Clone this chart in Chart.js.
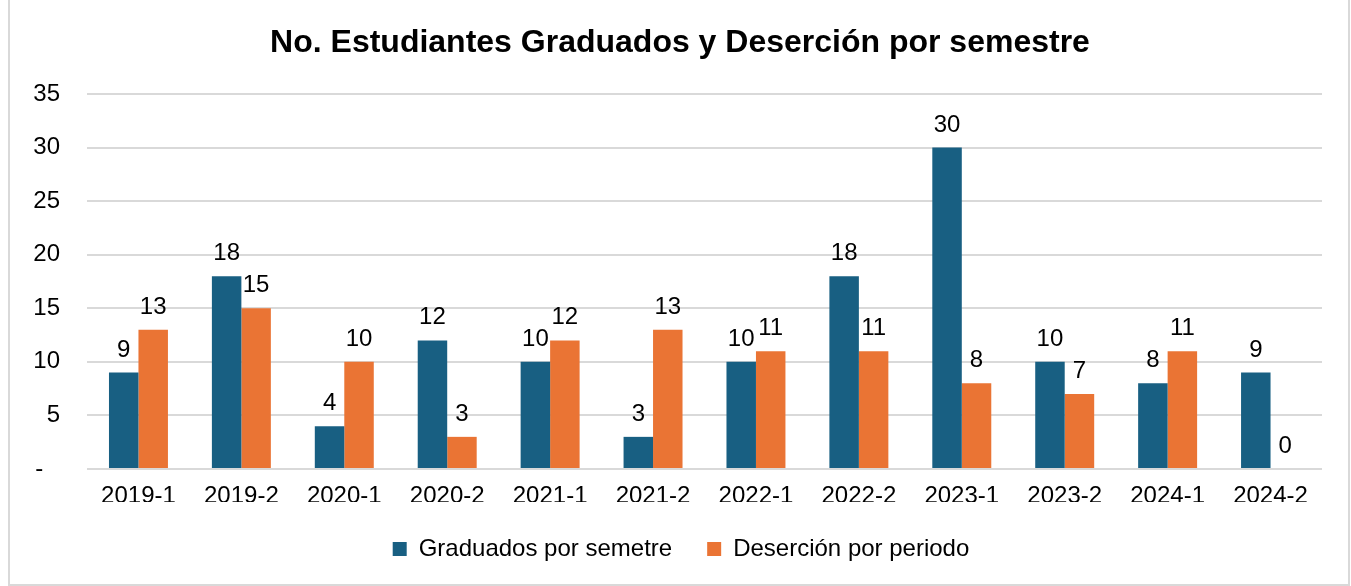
<!DOCTYPE html>
<html>
<head>
<meta charset="utf-8">
<script src="https://cdn.jsdelivr.net/npm/chart.js@4"></script>
<style>
  html, body { margin: 0; padding: 0; background: #fff; }
  #wrap { position: absolute; left: 0; top: 0; width: 1351px; height: 586px; }
  #frame { position: absolute; left: 8px; top: -2px; width: 1338px; height: 584px; border: 2px solid #d9d9d9; pointer-events: none; }
</style>
</head>
<body>
<div id="wrap"><canvas id="c" width="1351" height="586"></canvas></div>
<div id="frame"></div>
<script>
const categories = ['2019-1','2019-2','2020-1','2020-2','2021-1','2021-2','2022-1','2022-2','2023-1','2023-2','2024-1','2024-2'];
const graduados = [9, 18, 4, 12, 10, 3, 10, 18, 30, 10, 8, 9];
const desercion = [13, 15, 10, 3, 12, 13, 11, 11, 8, 7, 11, 0];
const seriesNames = ['Graduados por semetre', 'Deserción por periodo'];
const titleText = 'No. Estudiantes Graduados y Deserción por semestre';

const FONT = "'Liberation Sans', Arial, sans-serif";

const valueLabels = {
  id: 'valueLabels',
  afterDatasetsDraw(chart) {
    const ctx = chart.ctx;
    ctx.save();
    ctx.font = '24px ' + FONT;
    ctx.fillStyle = '#000';
    ctx.textAlign = 'center';
    ctx.textBaseline = 'alphabetic';
    chart.data.datasets.forEach((ds, i) => {
      const meta = chart.getDatasetMeta(i);
      meta.data.forEach((bar, j) => {
        ctx.fillText(String(ds.data[j]), bar.x, bar.y - 16);
      });
    });
    ctx.restore();
  }
};

const shiftBlocks = {
  id: 'shiftBlocks',
  afterLayout(chart) {
    if (chart.titleBlock) { chart.titleBlock.left += 8; }
    if (chart.legend) { chart.legend.left += 9; chart.legend.right += 1; }
  }
};

new Chart(document.getElementById('c'), {
  type: 'bar',
  data: {
    labels: categories,
    datasets: [
      { label: seriesNames[0], data: graduados, backgroundColor: '#185f82', borderWidth: 0 },
      { label: seriesNames[1], data: desercion, backgroundColor: '#ea7434', borderWidth: 0 }
    ]
  },
  options: {
    responsive: false,
    animation: false,
    events: [],
    devicePixelRatio: 1,
    layout: { padding: { left: 30, right: 29, top: 0, bottom: 15 } },
    datasets: { bar: { categoryPercentage: 0.573, barPercentage: 1.0 } },
    plugins: {
      title: {
        display: true,
        text: titleText,
        color: '#000',
        font: { family: FONT, size: 32, weight: 'bold' },
        padding: { top: 24, bottom: 31.6 }
      },
      legend: {
        position: 'bottom',
        labels: {
          color: '#000',
          font: { family: FONT, size: 24 },
          boxWidth: 14,
          boxHeight: 14,
          padding: 35
        }
      },
      tooltip: { enabled: false }
    },
    scales: {
      x: {
        grid: { display: false, drawTicks: false },
        border: { display: false },
        ticks: { color: '#000', font: { family: FONT, size: 24 }, padding: 13, maxRotation: 0 },
        afterFit(scale) { scale.height = 33; }
      },
      y: {
        min: 0,
        max: 35,
        grid: { color: '#d9d9d9', lineWidth: 2, drawTicks: false },
        border: { display: false },
        ticks: {
          stepSize: 5,
          color: '#000',
          font: { family: FONT, size: 24 },
          padding: 27,
          callback: (v) => v === 0 ? '-\u2002\u2009' : String(v)
        },
        afterFit(scale) { scale.width = 57; }
      }
    }
  },
  plugins: [valueLabels, shiftBlocks]
});
</script>
</body>
</html>
